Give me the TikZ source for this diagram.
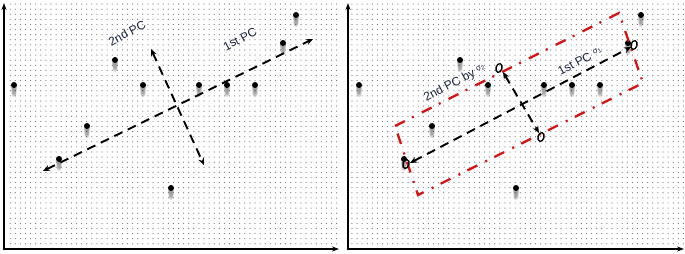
\documentclass[tikz,border=0pt]{standalone}
\usepackage{fontspec}
\setmainfont{Liberation Sans}
\usetikzlibrary{patterns.meta,arrows.meta,shapes.geometric}
\definecolor{txt}{RGB}{25,35,60}
\definecolor{rd}{RGB}{210,20,20}
\newcommand\pcsig[1]{\raisebox{3pt}{\fontsize{8}{8}\selectfont σ\textsubscript{#1}}}
\begin{document}
\begin{tikzpicture}[x=1pt,y=-1pt,
  axis/.style={line width=1.6pt,-{Stealth[length=7pt,width=5pt]}},
  pcarrow/.style={line width=1.9pt,dash pattern=on 9pt off 6pt,{Stealth[length=7pt,width=6pt]}-{Stealth[length=7pt,width=6pt]}},
  boxline/.style={rd,line width=2.3pt,dash pattern=on 11pt off 8pt on 2pt off 9pt},
  lab/.style={txt,font=\fontsize{12}{12}\selectfont,rotate=28,inner sep=0pt},
  opencirc/.style={draw,line width=1.3pt,ellipse,minimum width=6pt,minimum height=9pt,inner sep=0pt,rotate=-15},
  datum/.pic={
    \foreach \i in {1,...,6}{\fill[black,opacity=0.13] (0,1.6*\i) circle ({3.3-0.15*\i});}
    \fill[black] (0,0) circle (3);
  }
]
\useasboundingbox (0,0) rectangle (685,254);
\fill[white] (0,0) rectangle (685,254);
% dotted backgrounds
\fill[pattern={Dots[distance=5.1pt,radius=0.6pt]},pattern color=gray!90!black] (7,0) rectangle (338,247);
\fill[pattern={Dots[distance=5.1pt,radius=0.6pt]},pattern color=gray!90!black] (351,0) rectangle (685,247);
% axes
\coordinate (lo) at (4,249);
\coordinate (ly) at (4,3);
\coordinate (lx) at (339,249);
\coordinate (ro) at (348,249);
\coordinate (ry) at (348,3);
\coordinate (rx) at (684,249);
\draw[axis] ([yshift=-1pt]lo) -- (ly);
\draw[axis] ([xshift=-1pt]lo) -- (lx);
\draw[axis] ([yshift=-1pt]ro) -- (ry);
\draw[axis] ([xshift=-1pt]ro) -- (rx);
% data points
\foreach \px/\py [count=\k] in {296/15,283/43,115/60,14/85,143/85,199/85,227/85,255/85,87/126,59/159,171/188}{
  \coordinate (a\k) at (\px,\py);
  \coordinate (b\k) at (\px+345,\py);
  \pic at (a\k) {datum};
  \pic at (b\k) {datum};
}
% left panel PCs
\coordinate (L1s) at (43,171);
\coordinate (L1e) at (313,39);
\coordinate (L2s) at (151,49);
\coordinate (L2e) at (204,165);
\draw[pcarrow] (L1s) -- (L1e);
\draw[pcarrow] (L2s) -- (L2e);
% right panel PCs
\coordinate (R1s) at (410,163);
\coordinate (R1e) at (631,47);
\coordinate (R2s) at (503,72);
\coordinate (R2e) at (539,133);
\draw[pcarrow] (R1s) -- (R1e);
\draw[pcarrow] (R2s) -- (R2e);
% red box
\coordinate (c1) at (395,126);
\coordinate (c2) at (619,13);
\coordinate (c3) at (643,83);
\coordinate (c4) at (418,195);
\draw[boxline] (c1) -- (c2) -- (c3) -- (c4) -- cycle;
% open circles
\node[opencirc] (o1) at (634,45) {};
\node[opencirc] (o2) at (499,68) {};
\node[opencirc] (o3) at (541,137) {};
\node[opencirc] (o4) at (406,164) {};
% labels
\node[lab] (t1) at (127,33) {2nd PC};
\node[lab] (t2) at (240,39) {1st PC};
\node[lab] (t3) at (455,83) {2nd PC by \pcsig{2}};
\node[lab] (t4) at (580,61) {1st PC \pcsig{1}};
\end{tikzpicture}
\end{document}
